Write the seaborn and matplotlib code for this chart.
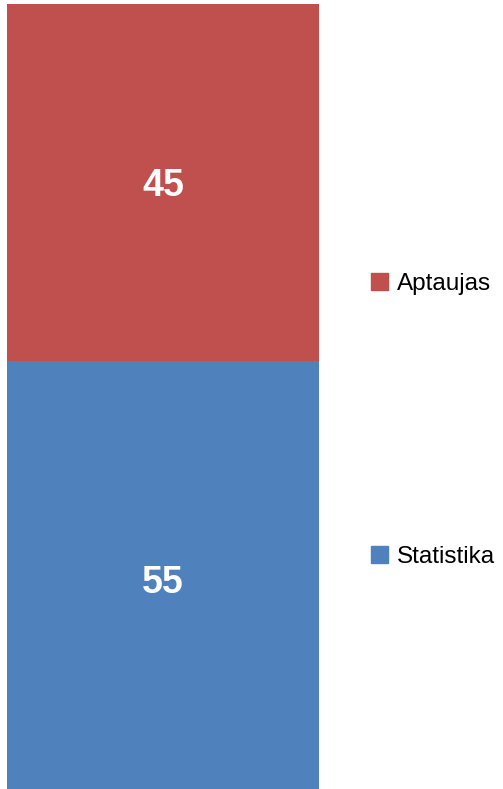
import matplotlib
matplotlib.use("Agg")
import matplotlib.pyplot as plt
import matplotlib.patches as mpatches
import pandas as pd
import seaborn as sns

# data
series = ["Statistika", "Aptaujas"]
values = [55, 45]
colors = ["#4F81BD", "#C0504D"]

sns.set_style("white")
plt.rcParams['font.family'] = ['Liberation Sans', 'DejaVu Sans']

fig = plt.figure(figsize=(5.03, 7.89), dpi=100)
# bar runs a little past the bottom edge of the image, as in the original
ax = fig.add_axes([7 / 503, -8 / 789, 312 / 503, 793 / 789])

# stacked bar: draw totals first, then the bottom segment over it
totals = [sum(values[:i + 1]) for i in range(len(values))]
df = pd.DataFrame({"cat": ["x"] * len(values), "series": series,
                   "total": totals})
for i in reversed(range(len(values))):
    sns.barplot(data=df.iloc[[i]], x="cat", y="total", color=colors[i],
                width=1.0, ax=ax, saturation=1, linewidth=0)

# value labels in the middle of each segment
for i, v in enumerate(values):
    mid = totals[i] - v / 2
    ax.text(0, mid, str(v), ha="center", va="center_baseline", color="white",
            fontsize=27, fontweight="bold")

ax.set_xlim(-0.5, 0.5)
ax.set_ylim(0, sum(values))
ax.set_xlabel("")
ax.set_ylabel("")
ax.set_xticks([])
ax.set_yticks([])
for s in ax.spines.values():
    s.set_visible(False)

# legend entries, one per series
legend_y = {"Aptaujas": 284, "Statistika": 557}
for name, col in zip(series, colors):
    handle = mpatches.Patch(color=col, label=name)
    fig.legend(handles=[handle], loc="center left",
               bbox_to_anchor=(371 / 503, 1 - legend_y[name] / 789),
               frameon=False, fontsize=17.5, handlelength=0.68,
               handleheight=0.68, handletextpad=0.37, borderpad=0,
               borderaxespad=0, labelcolor="black")

fig.savefig("out.png", dpi=100)
